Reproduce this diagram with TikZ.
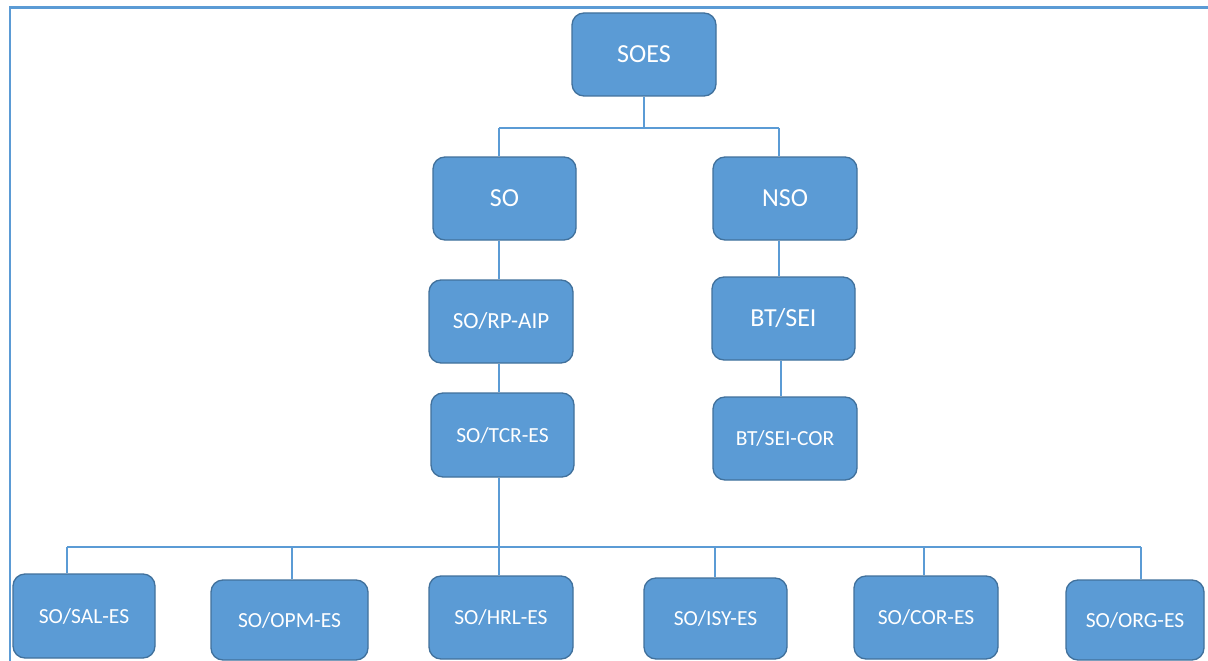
\documentclass[tikz,border=0pt]{standalone}
\usepackage{fontspec}
\setmainfont{Carlito}
\definecolor{boxfill}{HTML}{5B9BD5}
\definecolor{boxline}{HTML}{41719C}
\definecolor{linkcol}{HTML}{5B9BD5}
\tikzset{
  unit/.style={draw=boxline, fill=boxfill, rounded corners=12pt, line width=1.3pt,
    text=white, inner sep=0pt, align=center},
  big/.style={font=\fontsize{26}{30}\selectfont},
  mid/.style={font=\fontsize{23}{27}\selectfont},
  small/.style={font=\fontsize{21.5}{26}\selectfont},
  link/.style={draw=linkcol, line width=1.3pt},
  frame/.style={draw=linkcol, line width=2.4pt}
}
\begin{document}
\begin{tikzpicture}[x=1pt, y=-1pt]
  \useasboundingbox (0,0) rectangle (1208,661);
  \fill[white] (0,0) rectangle (1208,661);
  % outer frame: only its top and left sides fall on the page
  \coordinate (fa) at (1208,7.5);
  \coordinate (fb) at (10,7.5);
  \coordinate (fc) at (10,661);
  \draw[frame] (fa) -- (fb) -- (fc);

  % boxes
  \node[unit, big, minimum width=144pt, minimum height=83pt] (soes) at (644,54.5) {SOES};
  \node[unit, big, minimum width=143pt, minimum height=83pt] (so) at (504.5,198.5) {SO};
  \node[unit, big, minimum width=144pt, minimum height=83pt] (nso) at (785,198.5) {NSO};
  \node[unit, mid, minimum width=144pt, minimum height=83pt] (rp) at (501,321.5) {SO/RP-AIP};
  \node[unit, big, minimum width=143pt, minimum height=83pt] (btsei) at (783.5,318.5) {BT/SEI};
  \node[unit, small, minimum width=143pt, minimum height=84pt] (tcr) at (502.5,435) {SO/TCR-ES};
  \node[unit, small, minimum width=144pt, minimum height=83pt] (btcor) at (785,438.5) {BT/SEI-COR};
  \node[unit, small, minimum width=142pt, minimum height=84pt] (sal) at (84,616) {SO/SAL-ES};
  \node[unit, small, minimum width=157pt, minimum height=80pt] (opm) at (289.5,620) {SO/OPM-ES};
  \node[unit, small, minimum width=144pt, minimum height=83pt] (hrl) at (501,617.5) {SO/HRL-ES};
  \node[unit, small, minimum width=143pt, minimum height=81pt] (isy) at (715.5,618.5) {SO/ISY-ES};
  \node[unit, small, minimum width=144pt, minimum height=83pt] (cor) at (926,617.5) {SO/COR-ES};
  \node[unit, small, minimum width=138pt, minimum height=80pt] (org) at (1135,620) {SO/ORG-ES};

  % upper bus
  \coordinate (t1) at (499,128);
  \coordinate (t2) at (779,128);
  \draw[link] (t1) -- (t2);
  \draw[link] (soes.south) -- (soes.south |- t1);
  \draw[link] (t1) -- (t1 |- so.north);
  \draw[link] (t2) -- (t2 |- nso.north);

  % left chain
  \draw[link] (t1 |- so.south) -- (t1 |- rp.north);
  \draw[link] (t1 |- rp.south) -- (t1 |- tcr.north);

  % right chain
  \draw[link] (t2 |- nso.south) -- (t2 |- btsei.north);
  \coordinate (t3) at (781,0);
  \draw[link] (t3 |- btsei.south) -- (t3 |- btcor.north);

  % lower bus
  \coordinate (d1) at (67,547);
  \coordinate (d2) at (292,547);
  \coordinate (d3) at (499,547);
  \coordinate (d4) at (715,547);
  \coordinate (d5) at (924,547);
  \coordinate (d6) at (1141,547);
  \draw[link] (d1) -- (d6);
  \draw[link] (d3 |- tcr.south) -- (d3);
  \draw[link] (d1) -- (d1 |- sal.north);
  \draw[link] (d2) -- (d2 |- opm.north);
  \draw[link] (d3) -- (d3 |- hrl.north);
  \draw[link] (d4) -- (d4 |- isy.north);
  \draw[link] (d5) -- (d5 |- cor.north);
  \draw[link] (d6) -- (d6 |- org.north);
\end{tikzpicture}
\end{document}
